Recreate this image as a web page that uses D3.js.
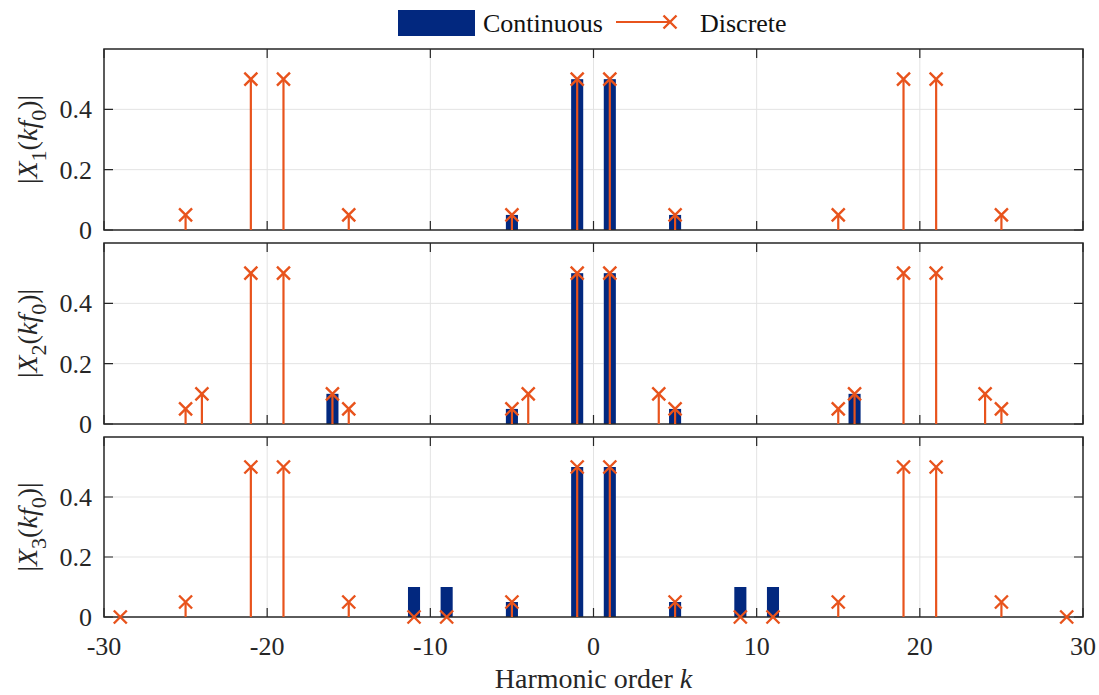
<!DOCTYPE html>
<html>
<head>
<meta charset="utf-8">
<script src="https://cdn.jsdelivr.net/npm/d3@7"></script>
<style>
  body { margin: 0; background: #fff; }
</style>
</head>
<body>
<svg width="1099" height="695"></svg>
<script>
// harmonic orders and magnitudes
var contK1 = [-5, -1, 1, 5];
var contV1 = [0.05, 0.5, 0.5, 0.05];
var discK1 = [-25, -21, -19, -15, -5, -1, 1, 5, 15, 19, 21, 25];
var discV1 = [0.05, 0.5, 0.5, 0.05, 0.05, 0.5, 0.5, 0.05, 0.05, 0.5, 0.5, 0.05];

var contK2 = [-16, -5, -1, 1, 5, 16];
var contV2 = [0.1, 0.05, 0.5, 0.5, 0.05, 0.1];
var discK2 = [-25, -24, -21, -19, -16, -15, -5, -4, -1, 1, 4, 5, 15, 16, 19, 21, 24, 25];
var discV2 = [0.05, 0.1, 0.5, 0.5, 0.1, 0.05, 0.05, 0.1, 0.5, 0.5, 0.1, 0.05, 0.05, 0.1, 0.5, 0.5, 0.1, 0.05];

var contK3 = [-11, -9, -5, -1, 1, 5, 9, 11];
var contV3 = [0.1, 0.1, 0.05, 0.5, 0.5, 0.05, 0.1, 0.1];
var discK3 = [-29, -25, -21, -19, -15, -11, -9, -5, -1, 1, 5, 9, 11, 15, 19, 21, 25, 29];
var discV3 = [0, 0.05, 0.5, 0.5, 0.05, 0, 0, 0.05, 0.5, 0.5, 0.05, 0, 0, 0.05, 0.5, 0.5, 0.05, 0];

var xTicks = [-30, -20, -10, 0, 10, 20, 30];
var yTicks = [0, 0.2, 0.4];
var panelSubs = ["1", "2", "3"];

var blue = "#02287f", orange = "#e8531c", axisCol = "#262626";
var serif = "'Liberation Serif', 'Times New Roman', Times, 'DejaVu Serif', serif";

var svg = d3.select("svg").attr("font-family", serif).style("font-family", serif);
var x = d3.scaleLinear().domain([-30, 30]).range([104, 1083]);
var panels = [
  {top: 49, bottom: 230, ck: contK1, cv: contV1, dk: discK1, dv: discV1},
  {top: 243, bottom: 424, ck: contK2, cv: contV2, dk: discK2, dv: discV2},
  {top: 437, bottom: 617, ck: contK3, cv: contV3, dk: discK3, dv: discV3}
];
var barW = x(0.37) - x(-0.37);

panels.forEach(function(p, i) {
  var y = d3.scaleLinear().domain([0, 0.6]).range([p.bottom, p.top]);
  var g = svg.append("g");

  // grid
  g.selectAll(".vg").data(xTicks.slice(1, -1)).enter().append("line")
    .attr("x1", function(d){ return x(d); }).attr("x2", function(d){ return x(d); })
    .attr("y1", p.top).attr("y2", p.bottom)
    .attr("stroke", "#e3e3e3").attr("stroke-width", 1);
  g.selectAll(".hg").data(yTicks.slice(1)).enter().append("line")
    .attr("x1", x(-30)).attr("x2", x(30))
    .attr("y1", function(d){ return y(d); }).attr("y2", function(d){ return y(d); })
    .attr("stroke", "#e3e3e3").attr("stroke-width", 1);

  // ticks (inward, all four sides)
  g.selectAll(".xt").data(xTicks).enter().append("path")
    .attr("d", function(d){ return "M" + x(d) + "," + p.bottom + "v-9M" + x(d) + "," + p.top + "v9"; })
    .attr("stroke", axisCol).attr("stroke-width", 1.2);
  g.selectAll(".yt").data(yTicks).enter().append("path")
    .attr("d", function(d){ return "M" + x(-30) + "," + y(d) + "h9M" + x(30) + "," + y(d) + "h-9"; })
    .attr("stroke", axisCol).attr("stroke-width", 1.2);

  // continuous bars
  g.selectAll(".bar").data(p.ck).enter().append("rect")
    .attr("x", function(d){ return x(d) - barW / 2; })
    .attr("y", function(d, j){ return y(p.cv[j]); })
    .attr("width", barW)
    .attr("height", function(d, j){ return y(0) - y(p.cv[j]); })
    .attr("fill", blue);

  // box
  g.append("rect").attr("x", x(-30)).attr("y", p.top)
    .attr("width", x(30) - x(-30)).attr("height", p.bottom - p.top)
    .attr("fill", "none").attr("stroke", axisCol).attr("stroke-width", 1.5);

  // discrete stems
  g.selectAll(".stem").data(p.dk).enter().append("line")
    .attr("x1", function(d){ return x(d); }).attr("x2", function(d){ return x(d); })
    .attr("y1", y(0)).attr("y2", function(d, j){ return y(p.dv[j]); })
    .attr("stroke", orange).attr("stroke-width", 2.2);
  g.selectAll(".mk").data(p.dk).enter().append("path")
    .attr("d", function(d, j){
      var cx = x(d), cy = y(p.dv[j]), s = 6.5;
      return "M" + (cx - s) + "," + (cy - s) + "L" + (cx + s) + "," + (cy + s) +
             "M" + (cx - s) + "," + (cy + s) + "L" + (cx + s) + "," + (cy - s);
    })
    .attr("stroke", orange).attr("stroke-width", 2.4).attr("fill", "none");

  // y tick labels
  g.selectAll(".yl").data(yTicks).enter().append("text")
    .attr("x", 92).attr("y", function(d){ return y(d) + 9; })
    .attr("text-anchor", "end").attr("font-size", 26).attr("fill", axisCol)
    .text(function(d){ return d === 0 ? "0" : d3.format(".1f")(d); });

  // y label
  var cy = (p.top + p.bottom) / 2;
  var t = g.append("text").attr("transform", "translate(37," + cy + ") rotate(-90)")
    .attr("text-anchor", "middle").attr("font-size", 28).attr("fill", axisCol);
  t.append("tspan").text("|");
  t.append("tspan").attr("font-style", "italic").text("X");
  t.append("tspan").attr("dy", 9).attr("font-size", 22).text(panelSubs[i]);
  t.append("tspan").attr("dy", -9).text("(");
  t.append("tspan").attr("font-style", "italic").text("kf");
  t.append("tspan").attr("dy", 9).attr("font-size", 22).text("0");
  t.append("tspan").attr("dy", -9).text(")|");
});

// x tick labels on bottom panel
svg.selectAll(".xl").data(xTicks).enter().append("text")
  .attr("x", function(d){ return x(d); }).attr("y", 655)
  .attr("text-anchor", "middle").attr("font-size", 26).attr("fill", axisCol)
  .text(function(d){ return d; });

var xl = svg.append("text").attr("x", x(0)).attr("y", 688)
  .attr("text-anchor", "middle").attr("font-size", 28).attr("fill", axisCol);
xl.append("tspan").text("Harmonic order ");
xl.append("tspan").attr("font-style", "italic").text("k");

// legend
var lg = svg.append("g");
lg.append("rect").attr("x", 398).attr("y", 10).attr("width", 77).attr("height", 26).attr("fill", blue);
lg.append("text").attr("x", 483).attr("y", 32).attr("font-size", 26).attr("fill", "#111").text("Continuous");
lg.append("line").attr("x1", 616).attr("x2", 670).attr("y1", 22).attr("y2", 22)
  .attr("stroke", orange).attr("stroke-width", 2.2);
lg.append("path").attr("d", "M663.5,15.5L676.5,28.5M663.5,28.5L676.5,15.5")
  .attr("stroke", orange).attr("stroke-width", 2.4);
lg.append("text").attr("x", 700).attr("y", 32).attr("font-size", 26).attr("fill", "#111").text("Discrete");
</script>
</body>
</html>
